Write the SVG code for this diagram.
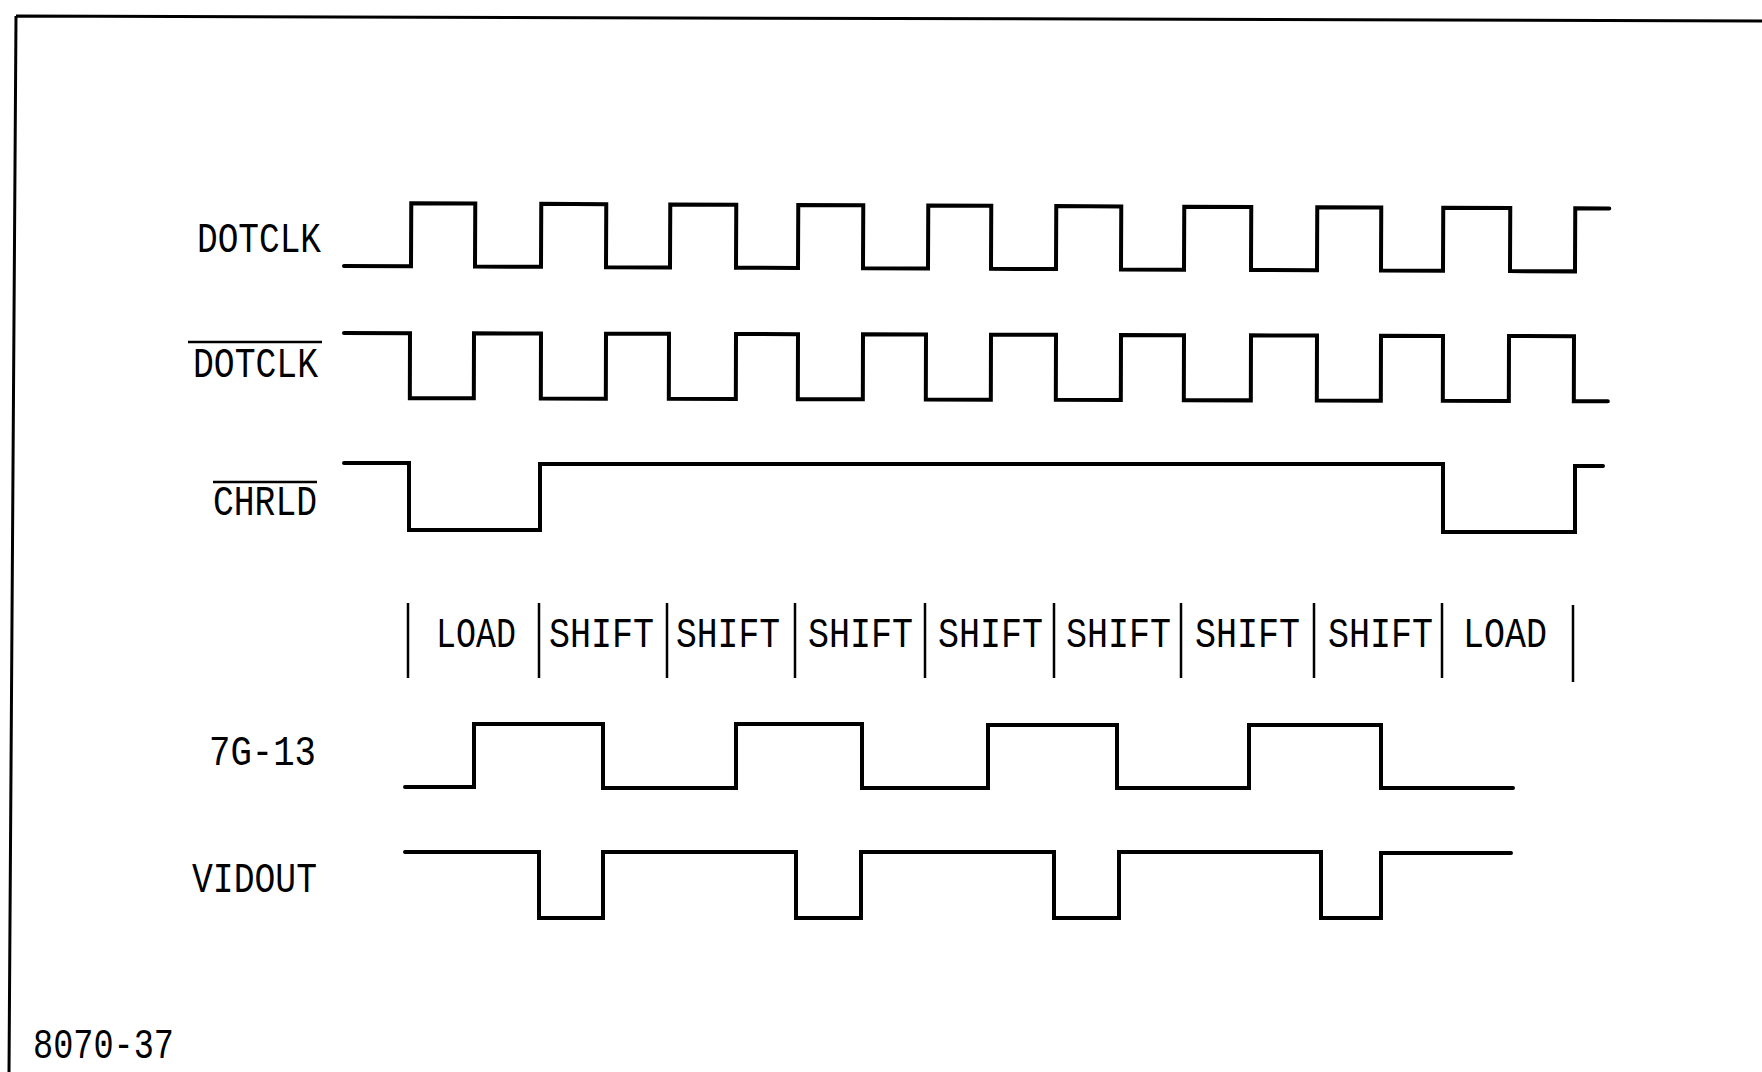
<svg xmlns="http://www.w3.org/2000/svg" width="1762" height="1072" viewBox="0 0 1762 1072">
<style>
.bg{fill:#fff}
.frame{stroke:#000;stroke-width:3;fill:none}
.wave{stroke:#000;stroke-width:4;fill:none;stroke-linecap:round;stroke-linejoin:miter}
.bar{stroke:#000;stroke-width:2.5;fill:none}
.over{stroke:#000;stroke-width:2.5}
.lbl{font-family:"Liberation Mono","DejaVu Sans Mono",monospace;font-size:42px;fill:#000}
</style>
<rect class="bg" x="0" y="0" width="1762" height="1072"/>
<g id="frame">
<path class="frame" d="M16,16 L1762,21 M16,16 L9,1072"/>
</g>
<g id="sig-dotclk">
<text class="lbl" x="197" y="252" textLength="124" lengthAdjust="spacingAndGlyphs">DOTCLK</text>
<path class="wave" transform="rotate(0.25 344 266)" d="M344,266 H411 V203 H475 V266 H541 V203 H606 V266 H670 V203 H736 V266 H798 V203 H863 V266 H928 V203 H991 V266 H1056 V203 H1121 V266 H1184 V203 H1251 V266 H1317 V203 H1381 V266 H1443 V203 H1510 V266 H1575 V203 H1609"/>
</g>
<g id="sig-dotclk-n">
<text class="lbl" x="193" y="377" textLength="125" lengthAdjust="spacingAndGlyphs">DOTCLK</text>
<line class="over" x1="188" y1="342" x2="322" y2="342"/>
<path class="wave" transform="rotate(0.15 344 333)" d="M344,333 H410 V398 H474 V333 H541 V398 H606 V333 H669 V398 H736 V333 H798 V398 H863 V333 H926 V398 H991 V333 H1056 V398 H1121 V333 H1184 V398 H1251 V333 H1317 V398 H1381 V333 H1443 V398 H1509 V333 H1574 V398 H1608"/>
</g>
<g id="sig-chrld-n">
<text class="lbl" x="213" y="515" textLength="104" lengthAdjust="spacingAndGlyphs">CHRLD</text>
<line class="over" x1="213" y1="482" x2="317" y2="482"/>
<path class="wave" d="M344,463 H409 V530 H540 V464 H1443 V532 H1575 V466 H1603"/>
</g>
<g id="phases">
<path class="bar" d="M408,603 V678 M539,603 V678 M667,603 V678 M795,603 V678 M925,603 V678 M1054,603 V678 M1181,603 V678 M1314,603 V678 M1442,603 V678 M1573,605 V682"/>
<text class="lbl" x="436" y="647" textLength="80" lengthAdjust="spacingAndGlyphs">LOAD</text>
<text class="lbl" x="549" y="647" textLength="105" lengthAdjust="spacingAndGlyphs">SHIFT</text>
<text class="lbl" x="676" y="647" textLength="104" lengthAdjust="spacingAndGlyphs">SHIFT</text>
<text class="lbl" x="808" y="647" textLength="105" lengthAdjust="spacingAndGlyphs">SHIFT</text>
<text class="lbl" x="938" y="647" textLength="105" lengthAdjust="spacingAndGlyphs">SHIFT</text>
<text class="lbl" x="1066" y="647" textLength="105" lengthAdjust="spacingAndGlyphs">SHIFT</text>
<text class="lbl" x="1195" y="647" textLength="105" lengthAdjust="spacingAndGlyphs">SHIFT</text>
<text class="lbl" x="1328" y="647" textLength="105" lengthAdjust="spacingAndGlyphs">SHIFT</text>
<text class="lbl" x="1463" y="647" textLength="84" lengthAdjust="spacingAndGlyphs">LOAD</text>
</g>
<g id="sig-7g13">
<text class="lbl" x="209" y="765" textLength="107" lengthAdjust="spacingAndGlyphs">7G-13</text>
<path class="wave" d="M405,787 H474 V724 H603 V788 H736 V724 H862 V788 H988 V725 H1117 V788 H1249 V725 H1381 V788 H1513"/>
</g>
<g id="sig-vidout">
<text class="lbl" x="192" y="892" textLength="125" lengthAdjust="spacingAndGlyphs">VIDOUT</text>
<path class="wave" d="M405,852 H539 V918 H603 V852 H796 V918 H861 V852 H1054 V918 H1119 V852 H1321 V918 H1381 V853 H1511"/>
</g>
<g id="figure-number">
<text class="lbl" x="33" y="1058" textLength="141" lengthAdjust="spacingAndGlyphs">8070-37</text>
</g>
</svg>
